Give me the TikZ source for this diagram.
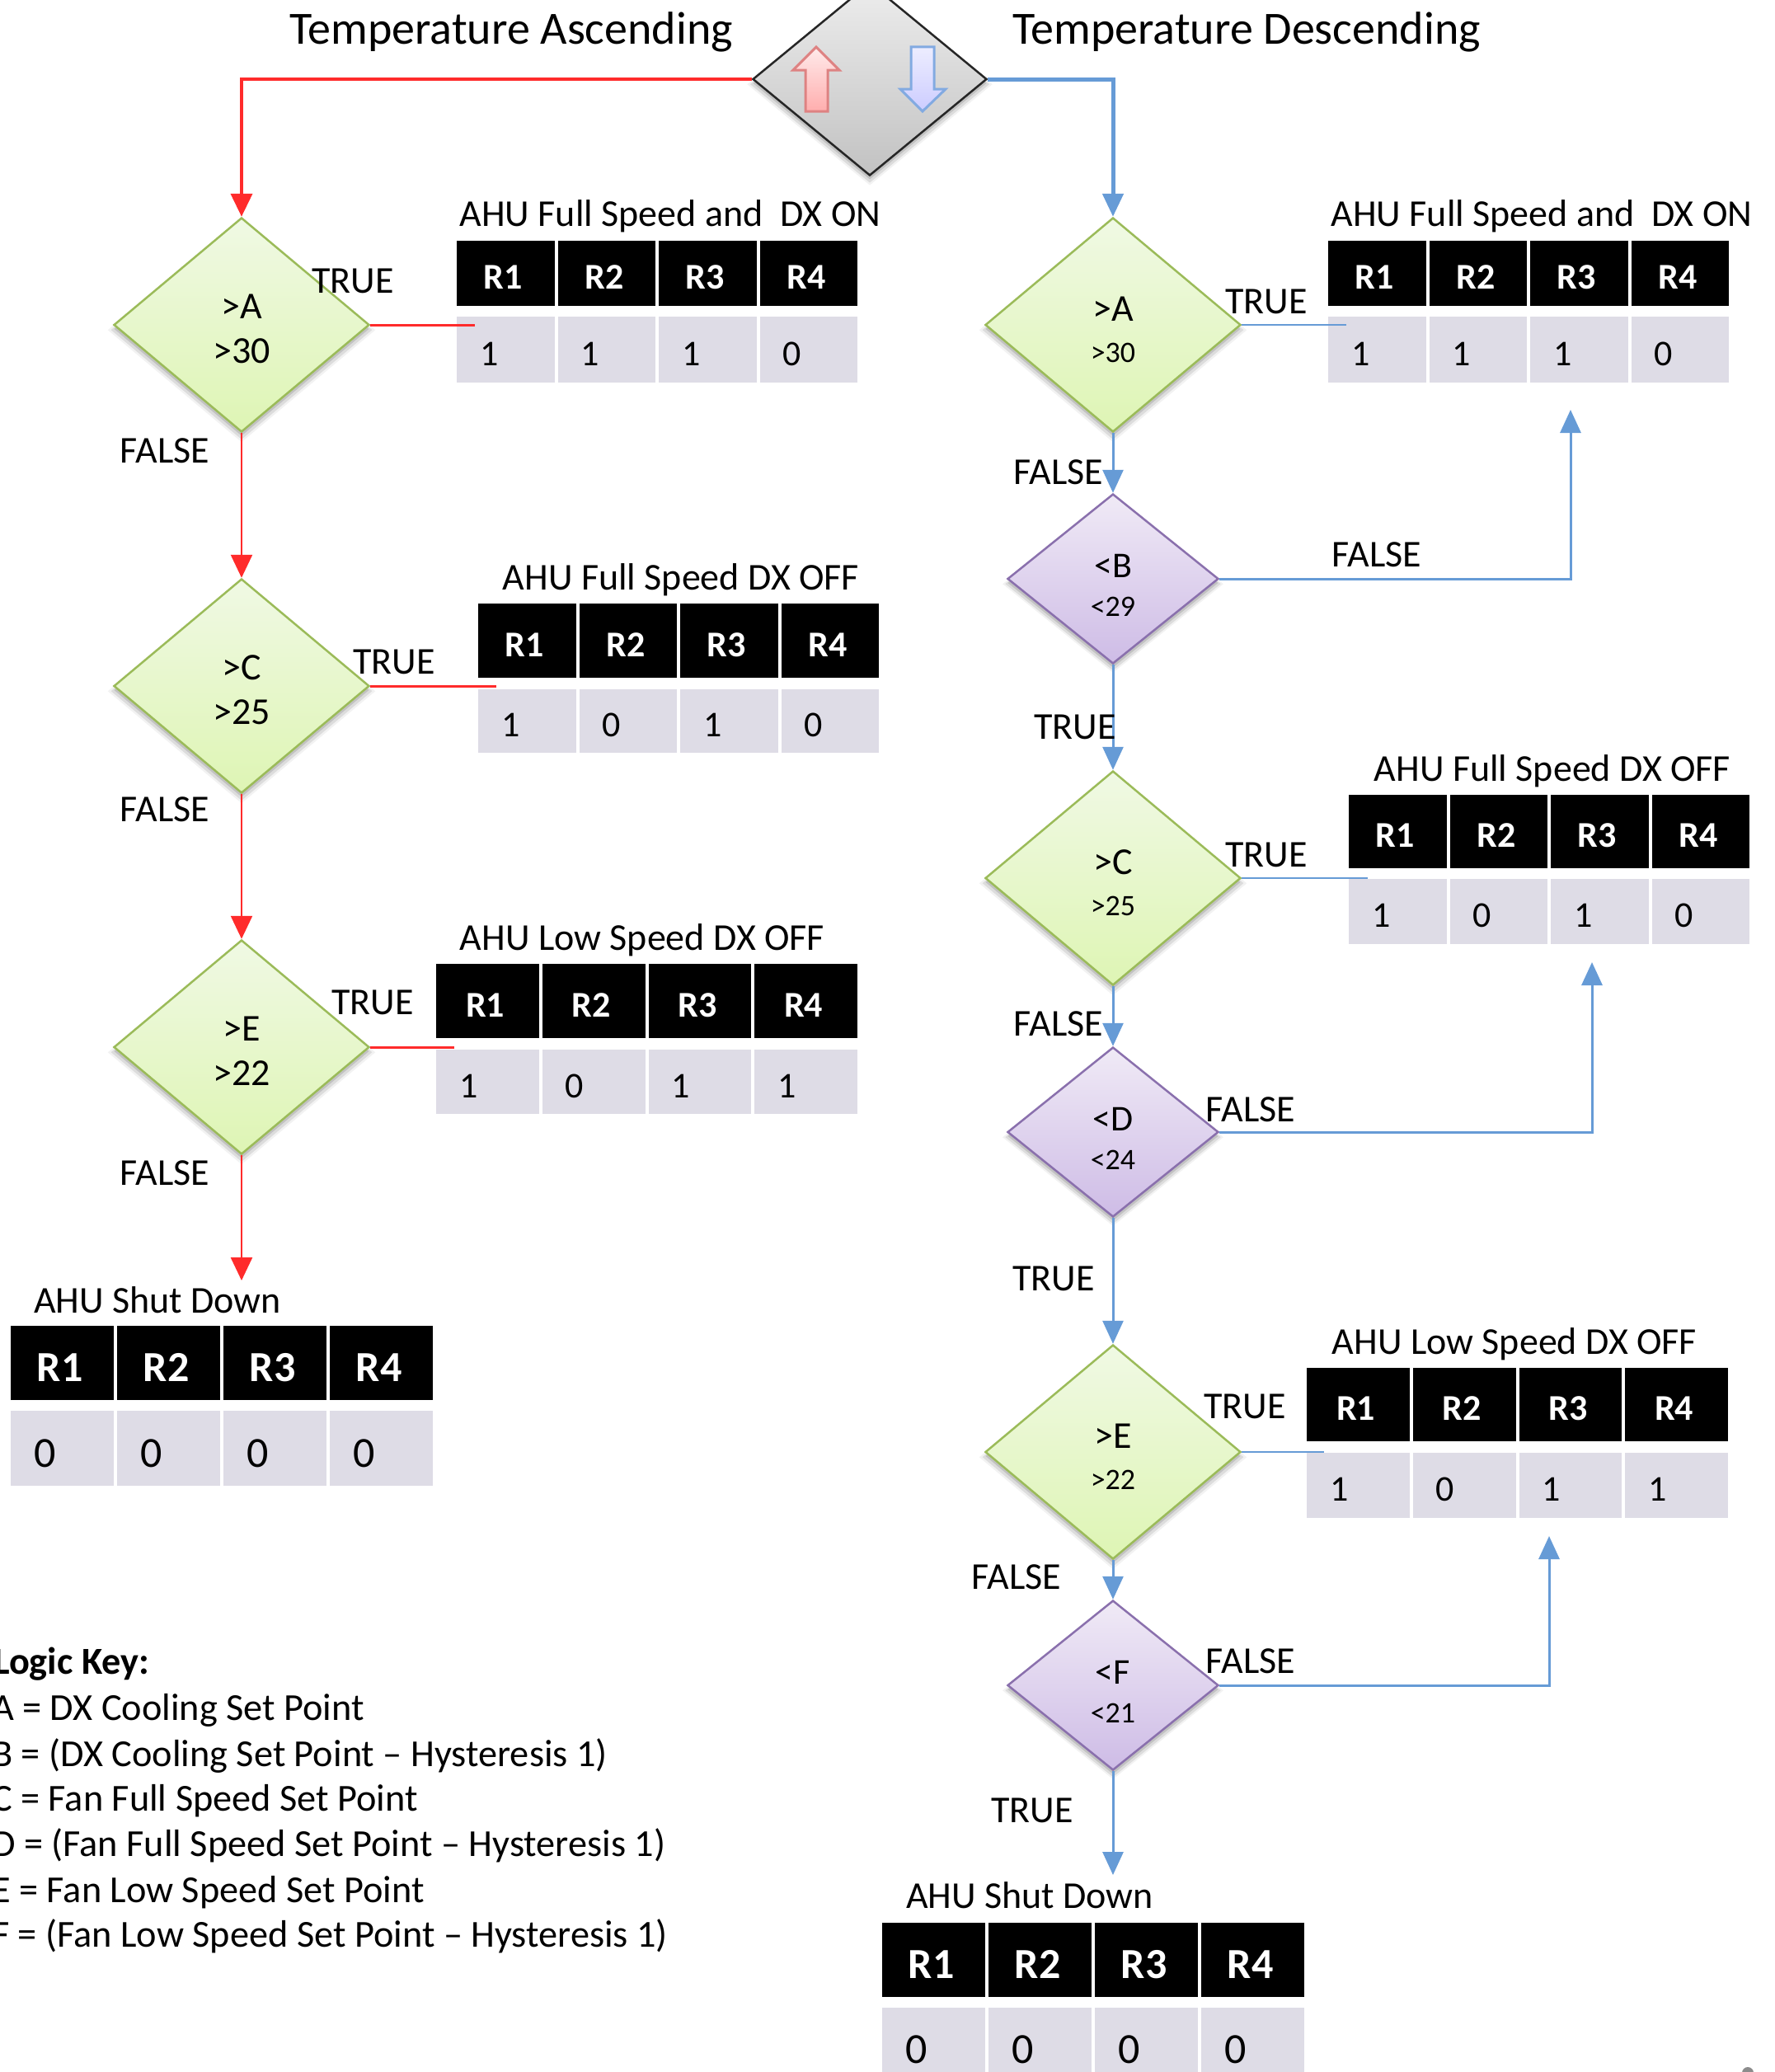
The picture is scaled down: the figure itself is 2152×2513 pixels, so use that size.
\documentclass[tikz,border=0pt]{standalone}
\usepackage{fontspec}
\setmainfont{Carlito}
\usetikzlibrary{shapes.geometric,arrows.meta,shadows}
\definecolor{hotred}{HTML}{FF2B2B}
\definecolor{coolblue}{HTML}{669BD6}
\definecolor{cellgrey}{HTML}{DEDCE6}
\definecolor{greenline}{HTML}{9BBB59}
\definecolor{purpleline}{HTML}{8A70AD}
\newcommand{\fsz}[1]{\fontsize{#1}{#1}\selectfont}
% name, x0, pitch, header top, header height, body top, body height, font size, values
\newcommand{\ahutable}[9]{%
  \foreach \i/\v in {#9}{%
    \pgfmathsetmacro{\cx}{#2+(\i-1)*#3}%
    \pgfmathsetmacro{\cw}{#3-4}%
    \pgfmathsetmacro{\tw}{#3-4-56}%
    \node[headcell,minimum width=\cw pt,minimum height=#5 pt,font=\bfseries\fsz{#8}] (#1h\i) at (\cx,#4) {\hspace*{-6pt}\raisebox{-.43em}[0pt][0pt]{R\i}};
    \node[bodycell,minimum height=#7 pt,text width=\tw pt,font=\fsz{#8}] (#1b\i) at (\cx,#6) {\raisebox{-.43em}[0pt][0pt]{\v}};
  }%
}
\tikzset{
  softshade/.style={
    general shadow={fill=black,opacity=.05,shadow scale=1.05,shadow yshift=-6pt},
    general shadow={fill=black,opacity=.09,shadow scale=1.025,shadow yshift=-6pt},
    general shadow={fill=black,opacity=.12,shadow scale=1.0,shadow yshift=-5pt}},
  greendia/.style={diamond,draw=greenline,line width=2.5pt,inner sep=0pt,aspect=1.19,
    minimum width=310pt,minimum height=260pt,
    top color={rgb,255:red,240;green,249;blue,228},bottom color={rgb,255:red,222;green,245;blue,180},
    softshade},
  purpledia/.style={diamond,draw=purpleline,line width=2.5pt,inner sep=0pt,aspect=1.245,
    minimum width=256pt,minimum height=206pt,
    top color={rgb,255:red,240;green,234;blue,246},bottom color={rgb,255:red,206;green,188;blue,230},
    softshade},
  greydia/.style={diamond,draw=black!85,line width=2.5pt,inner sep=0pt,aspect=1.214,
    minimum width=284pt,minimum height=234pt,
    top color=black!7,bottom color=black!24,softshade},
  headcell/.style={anchor=north west,fill=black,text=white,inner sep=0pt},
  bodycell/.style={anchor=north west,fill=cellgrey,inner ysep=0pt,inner xsep=28pt,align=left},
  lab/.style={inner sep=0pt,font=\fsz{46},text height=38pt,text depth=8pt},
  labr/.style={lab,xshift=2pt},
  ttl/.style={inner sep=0pt,font=\fsz{56},text height=46pt,text depth=10pt},
  keyline/.style={inner sep=0pt,anchor=base west,font=\fsz{46.3}},
  dtxtl/.style={inner sep=0pt,align=center,font=\fontsize{46}{54}\selectfont},
  dtxtg/.style={inner sep=0pt,align=center,font=\fontsize{46}{50}\selectfont},
  dtxtp/.style={inner sep=0pt,align=center,font=\fontsize{44}{47}\selectfont},
  redflow/.style={draw=hotred,line width=2.5pt,-{Triangle[length=28pt,width=26pt]}},
  redtrue/.style={draw=hotred,line width=3pt},
  blueflow/.style={draw=coolblue,line width=3pt,-{Triangle[length=28pt,width=25pt]}},
  bluetrue/.style={draw=coolblue,line width=2.5pt},
  uparrow/.style={draw={rgb,255:red,222;green,130;blue,130},line width=3pt,top color=red!8,bottom color=red!32},
  downarrow/.style={draw={rgb,255:red,130;green,170;blue,225},line width=3pt,top color=blue!7,bottom color=blue!20},
}
\begin{document}
\begin{tikzpicture}[x=1pt,y=-1pt]
\useasboundingbox (0,0) rectangle (2152,2513);

% top decision
\node[greydia] (top) at (1055,96) {};
\draw[uparrow] (990,57) -- (1018,85) -- (1004,85) -- (1004,135) -- (977,135) -- (977,85) -- (962,85) -- cycle;
\draw[downarrow] (1105,57) -- (1133,57) -- (1133,108) -- (1147,108) -- (1119,135) -- (1092,108) -- (1105,108) -- cycle;
\node[ttl] (tasc) at (620,35) {Temperature Ascending};
\node[ttl] (tdsc) at (1512,35) {Temperature Descending};

% left column
\node[greendia] (la) at (293,394) {};
\node[greendia] (lc) at (293,832) {};
\node[greendia] (le) at (293,1270) {};
\node[dtxtl] (lax) at ([yshift=-5pt]la.center) {>A\\>30};
\node[dtxtl] (lcx) at ([yshift=-5pt]lc.center) {>C\\>25};
\node[dtxtl] (lex) at ([yshift=-5pt]le.center) {>E\\>22};

\ahutable{lt}{554}{122.5}{292}{79}{384}{80}{44}{1/1,2/1,3/1,4/0}
\ahutable{lu}{580}{122.5}{732}{90}{836}{77}{44}{1/1,2/0,3/1,4/0}
\ahutable{lv}{529}{128.7}{1169}{90}{1273}{78}{44}{1/1,2/0,3/1,4/1}
\ahutable{lw}{13}{129}{1608}{90}{1711}{91}{52}{1/0,2/0,3/0,4/0}

\coordinate (lat) at (576,394);
\coordinate (lct) at (602,832);
\coordinate (let) at (551,1270);
\draw[redtrue] (la.east) -- (lat);
\draw[redtrue] (lc.east) -- (lct);
\draw[redtrue] (le.east) -- (let);
\draw[redflow] (la.south) -- (lc.north);
\draw[redflow] (lc.south) -- (le.north);
\coordinate (lend) at (293,1553);
\draw[redflow] (le.south) -- (lend);
\draw[redflow,line width=4pt] (top.west) -| (la.north);

\node[lab] (l1) at (813,259) {AHU Full Speed and\ \ DX ON};
\node[lab] (l2) at (428,340) {TRUE};
\node[lab] (l3) at (200,546) {FALSE};
\node[lab] (l4) at (826,700) {AHU Full Speed DX OFF};
\node[lab] (l5) at (478,802) {TRUE};
\node[lab] (l6) at (200,981) {FALSE};
\node[lab] (l7) at (779,1137) {AHU Low Speed DX OFF};
\node[lab] (l8) at (452,1215) {TRUE};
\node[lab] (l9) at (200,1422) {FALSE};
\node[lab] (l10) at (191,1577) {AHU Shut Down};

% right column
\node[greendia] (ra) at (1350,394) {};
\node[purpledia] (rb) at (1350,702) {};
\node[greendia] (rc) at (1350,1065) {};
\node[purpledia] (rd) at (1350,1373) {};
\node[greendia] (re) at (1350,1761) {};
\node[purpledia] (rf) at (1350,2044) {};
\node[dtxtg] (rax) at ([yshift=-6pt]ra.center) {>A\\\fsz{36}>30};
\node[dtxtp] (rbx) at ([yshift=-8pt]rb.center) {<B\\\fsz{36}<29};
\node[dtxtg] (rcx) at ([yshift=-6pt]rc.center) {>C\\\fsz{36}>25};
\node[dtxtp] (rdx) at ([yshift=-8pt]rd.center) {<D\\\fsz{36}<24};
\node[dtxtg] (rex) at ([yshift=-6pt]re.center) {>E\\\fsz{36}>22};
\node[dtxtp] (rfx) at ([yshift=-8pt]rf.center) {<F\\\fsz{36}<21};

\ahutable{rt}{1611}{122.5}{292}{79}{384}{80}{44}{1/1,2/1,3/1,4/0}
\ahutable{ru}{1636}{122.5}{964}{89}{1066}{79}{44}{1/1,2/0,3/1,4/0}
\ahutable{rv}{1585}{128.7}{1659}{89}{1762}{79}{44}{1/1,2/0,3/1,4/1}
\ahutable{rw}{1070}{129}{2332}{90}{2435}{90}{52}{1/0,2/0,3/0,4/0}

\coordinate (rat) at (1633,394);
\coordinate (rct) at (1659,1065);
\coordinate (ret) at (1606,1761);
\draw[bluetrue] (ra.east) -- (rat);
\draw[bluetrue] (rc.east) -- (rct);
\draw[bluetrue] (re.east) -- (ret);
\draw[blueflow,line width=5pt] (top.east) -| (ra.north);
\draw[blueflow] (ra.south) -- (rb.north);
\draw[blueflow] (rb.south) -- (rc.north);
\draw[blueflow] (rc.south) -- (rd.north);
\draw[blueflow] (rd.south) -- (re.north);
\draw[blueflow] (re.south) -- (rf.north);
\coordinate (rend) at (1350,2274);
\draw[blueflow] (rf.south) -- (rend);
\coordinate (fb1) at (1905,497);
\coordinate (fb2) at (1931,1167);
\coordinate (fb3) at (1879,1863);
\draw[blueflow] (rb.east) -| (fb1);
\draw[blueflow] (rd.east) -| (fb2);
\draw[blueflow] (rf.east) -| (fb3);

\node[labr] (r1) at (1868,259) {AHU Full Speed and\ \ DX ON};
\node[labr] (r2) at (1534,365) {TRUE};
\node[labr] (r3) at (1282,572) {FALSE};
\node[labr] (r4) at (1668,672) {FALSE};
\node[labr] (r5) at (1302,881) {TRUE};
\node[labr] (r6) at (1881,932) {AHU Full Speed DX OFF};
\node[labr] (r7) at (1534,1036) {TRUE};
\node[labr] (r8) at (1282,1241) {FALSE};
\node[labr] (r9) at (1515,1345) {FALSE};
\node[labr] (r10) at (1276,1550) {TRUE};
\node[labr] (r11) at (1835,1627) {AHU Low Speed DX OFF};
\node[labr] (r12) at (1508,1705) {TRUE};
\node[labr] (r13) at (1231,1912) {FALSE};
\node[labr] (r14) at (1515,2014) {FALSE};
\node[labr] (r15) at (1250,2195) {TRUE};
\node[labr] (r16) at (1247,2299) {AHU Shut Down};

% logic key
\node[keyline,font=\bfseries\fsz{46.3}] (k0) at (-8,2030) {Logic Key:};
\node[keyline] (k1) at (-10,2086) {A = DX Cooling Set Point};
\node[keyline] (k2) at (-10,2142) {B = (DX Cooling Set Point – Hysteresis 1)};
\node[keyline] (k3) at (-10,2196) {C = Fan Full Speed Set Point};
\node[keyline] (k4) at (-10,2251) {D = (Fan Full Speed Set Point – Hysteresis 1)};
\node[keyline] (k5) at (-10,2307) {E = Fan Low Speed Set Point};
\node[keyline] (k6) at (-10,2361) {F = (Fan Low Speed Set Point – Hysteresis 1)};

% scrap at the page corner
\fill[black!45] (2120,2514) circle (7pt);
\end{tikzpicture}
\end{document}
